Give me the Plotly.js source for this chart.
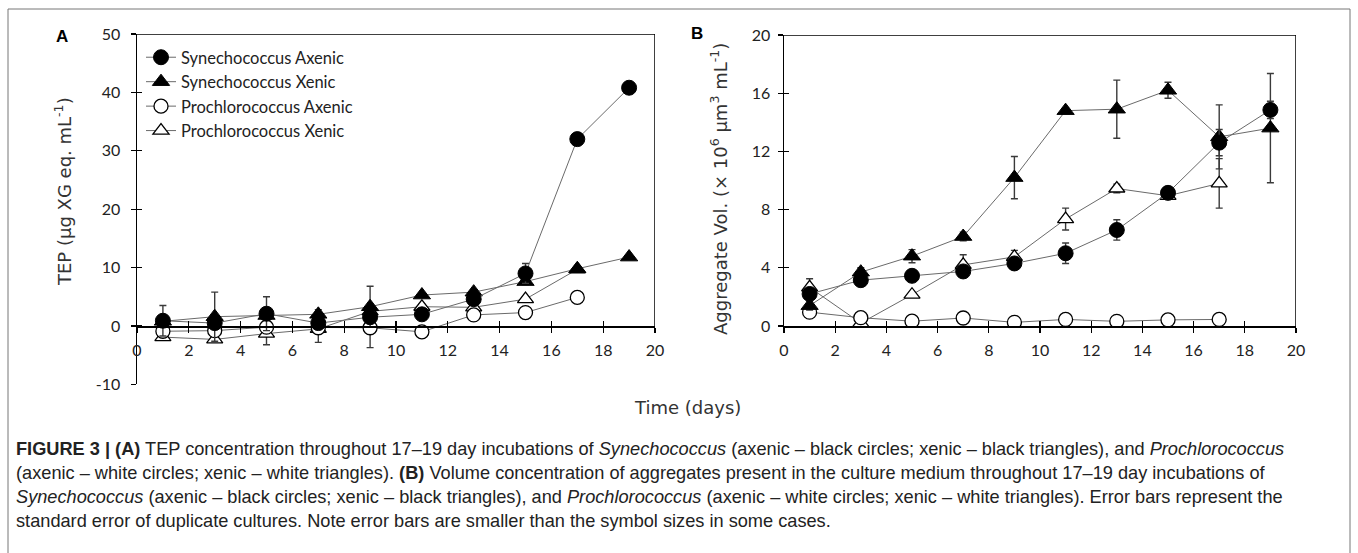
<!DOCTYPE html>
<html>
<head>
<meta charset="utf-8">
<script src="https://cdn.plot.ly/plotly-3.0.1.min.js"></script>
<style>html,body{margin:0;padding:0;background:#fff;}#chart{width:1358px;height:553px;}</style>
</head>
<body>
<div id="chart"></div>
<script>
// ---------- data ----------
const daysSyn = [1, 3, 5, 7, 9, 11, 13, 15, 17, 19];
const daysPro = [1, 3, 5, 7, 9, 11, 13, 15, 17];

// Panel A: TEP (µg XG eq. mL-1)
const tepSynAxenic    = [0.9, 0.5, 2.1, 0.5, 1.5, 2.0, 4.6, 9.0, 32.0, 40.8];
const tepSynAxenicErr = [2.6, 0.3, 2.9, 0.3, 0.4, 0.5, 0.5, 1.7, 0.4, 0.4];
const tepSynXenic     = [0.8, 1.6, 1.8, 2.0, 3.3, 5.3, 5.8, 7.6, 9.8, 11.8];
const tepSynXenicErr  = [0.3, 4.2, 0.3, 0.8, 3.5, 0.4, 0.4, 0.5, 0.3, 0.4];
const tepProAxenic    = [-0.9, -0.8, -0.2, -0.3, -0.3, -1.0, 1.9, 2.3, 4.9];
const tepProAxenicErr = [0.3, 0.3, 0.4, 2.5, 3.4, 0.6, 0.5, 0.4, 0.3];
const tepProXenic     = [-1.9, -2.3, -1.3, -0.5, 2.5, 3.3, 3.2, 4.6, 9.7];
const tepProXenicErr  = [0.3, 0.3, 1.9, 0.5, 0.4, 0.4, 0.4, 0.4, 0.3];

// Panel B: Aggregate volume (x 10^6 µm3 mL-1)
const volSynAxenic    = [2.2, 3.15, 3.45, 3.75, 4.3, 5.0, 6.6, 9.15, 12.6, 14.85];
const volSynAxenicErr = [0.3, 0.3, 0.3, 0.3, 0.3, 0.7, 0.7, 0.4, 0.9, 0.6];
const volSynXenic     = [1.4, 3.7, 4.8, 6.15, 10.2, 14.8, 14.9, 16.2, 13.0, 13.6];
const volSynXenicErr  = [0.3, 0.3, 0.45, 0.3, 1.45, 0.2, 2.0, 0.55, 2.2, 3.75];
const volProAxenic    = [0.95, 0.57, 0.33, 0.55, 0.25, 0.45, 0.32, 0.42, 0.45];
const volProAxenicErr = [0.2, 0.2, 0.2, 0.3, 0.15, 0.3, 0.1, 0.2, 0.2];
const volProXenic     = [2.65, 0.2, 2.15, 4.2, 4.75, 7.35, 9.45, 8.95, 9.8];
const volProXenicErr  = [0.6, 0.2, 0.1, 0.7, 0.45, 0.75, 0.3, 0.2, 1.7];

const seriesNames = ['Synechococcus Axenic', 'Synechococcus Xenic', 'Prochlorococcus Axenic', 'Prochlorococcus Xenic'];
const xTicks = [0, 2, 4, 6, 8, 10, 12, 14, 16, 18, 20];
const yTicksA = [-10, 0, 10, 20, 30, 40, 50];
const yTicksAText = ['-10', '0', '10', '20', '30', '40', '50'];
const yTicksB = [0, 4, 8, 12, 16, 20];

// ---------- styles ----------
const W = 1358, H = 553;
const px = v => v / W, py = v => 1 - v / H;
const lineColor = '#6a6a6a';
const errStyle = {type: 'data', visible: true, color: '#3a3a3a', thickness: 1.4, width: 3.5};
const markerStyles = [
  {symbol: 'circle', size: 15, color: '#000', line: {color: '#000', width: 1}},
  {symbol: 'triangle-up', size: 15, color: '#000', line: {color: '#000', width: 1}},
  {symbol: 'circle', size: 14, color: '#fff', line: {color: '#000', width: 1.3}},
  {symbol: 'triangle-up', size: 14, color: '#fff', line: {color: '#000', width: 1.3}}
];
function mk(i, x, y, e, xa, ya, legend) {
  return {
    type: 'scatter', mode: 'lines+markers', name: seriesNames[i],
    x: x, y: y, xaxis: xa, yaxis: ya,
    line: {color: lineColor, width: 1},
    marker: markerStyles[i],
    error_y: Object.assign({array: e}, errStyle),
    showlegend: legend, legendrank: i + 1, hoverinfo: 'x+y+name'
  };
}

const traces = [
  // panel A (draw Pro first so Syn sits on top)
  mk(3, daysPro, tepProXenic, tepProXenicErr, 'x', 'y', true),
  mk(2, daysPro, tepProAxenic, tepProAxenicErr, 'x', 'y', true),
  mk(1, daysSyn, tepSynXenic, tepSynXenicErr, 'x', 'y', true),
  mk(0, daysSyn, tepSynAxenic, tepSynAxenicErr, 'x', 'y', true),
  // panel B
  mk(3, daysPro, volProXenic, volProXenicErr, 'x2', 'y2', false),
  mk(2, daysPro, volProAxenic, volProAxenicErr, 'x2', 'y2', false),
  mk(1, daysSyn, volSynXenic, volSynXenicErr, 'x2', 'y2', false),
  mk(0, daysSyn, volSynAxenic, volSynAxenicErr, 'x2', 'y2', false),
  // empty traces for inner tick overlays
  {type: 'scatter', x: [], y: [], xaxis: 'x3', yaxis: 'y3', showlegend: false, hoverinfo: 'skip'},
  {type: 'scatter', x: [], y: [], xaxis: 'x4', yaxis: 'y4', showlegend: false, hoverinfo: 'skip'}
];

// domains
const domAx = [px(137), px(655)];
const domAy = [py(384.4), py(34)];
const domBx = [px(784), px(1296)];
const domBy = [py(326), py(35)];
const zeroPosA = domAy[0] + (domAy[1] - domAy[0]) * (10 / 60);

const tickFont = {family: 'Lato, "Open Sans", sans-serif', size: 16, color: '#222'};
const baseAxis = {
  showgrid: false, zeroline: false, showline: true, linecolor: '#000', linewidth: 1.5,
  ticks: 'outside', ticklen: 5, tickwidth: 1.3, tickcolor: '#000', tickfont: tickFont,
  fixedrange: true
};
const innerAxis = {
  showgrid: false, zeroline: false, showline: false, ticks: 'inside', ticklen: 5,
  tickwidth: 1.3, tickcolor: '#000', showticklabels: false, fixedrange: true
};

const capFont = {family: '"Liberation Sans Narrow", "Liberation Sans", Arial, sans-serif', size: 18.2, color: '#222'};
const capLines = [
  '<b>FIGURE 3 | (A)</b> TEP concentration throughout 17–19 day incubations of <i>Synechococcus</i> (axenic – black circles; xenic – black triangles), and <i>Prochlorococcus</i>',
  '(axenic – white circles; xenic – white triangles). <b>(B)</b> Volume concentration of aggregates present in the culture medium throughout 17–19 day incubations of',
  '<i>Synechococcus</i> (axenic – black circles; xenic – black triangles), and <i>Prochlorococcus</i> (axenic – white circles; xenic – white triangles). Error bars represent the',
  'standard error of duplicate cultures. Note error bars are smaller than the symbol sizes in some cases.'
];
const capY = [449, 473, 497, 521];

const titleFont = {family: '"DejaVu Sans", Verdana, sans-serif', size: 18, color: '#333'};
const annotations = [
  {text: '<b>A</b>', x: px(62), y: py(36), xref: 'paper', yref: 'paper', showarrow: false,
   xanchor: 'center', yanchor: 'middle',
   font: {family: '"Liberation Sans", Arial, sans-serif', size: 17, color: '#000'}},
  {text: '<b>B</b>', x: px(697), y: py(33), xref: 'paper', yref: 'paper', showarrow: false,
   xanchor: 'center', yanchor: 'middle',
   font: {family: '"Liberation Sans", Arial, sans-serif', size: 17, color: '#000'}},
  {text: 'TEP (µg XG eq. mL<sup>-1</sup>)', x: px(63), y: py(192), xref: 'paper', yref: 'paper',
   xanchor: 'center', yanchor: 'middle', showarrow: false, textangle: -90, font: titleFont},
  {text: 'Aggregate Vol. (× 10<sup>6</sup> µm<sup>3</sup> mL<sup>-1</sup>)', x: px(719), y: py(189), xref: 'paper', yref: 'paper',
   xanchor: 'center', yanchor: 'middle', showarrow: false, textangle: -90, font: titleFont},
  {text: 'Time (days)', x: px(687), y: py(407), xref: 'paper', yref: 'paper', showarrow: false,
   xanchor: 'center', yanchor: 'middle', font: titleFont}
].concat(capLines.map((t, i) => ({
  text: t, x: px(14), y: py(capY[i]), xref: 'paper', yref: 'paper', xanchor: 'left', yanchor: 'middle',
  showarrow: false, align: 'left', font: capFont
})));

const shapes = [
  {type: 'line', xref: 'x', yref: 'y', x0: 0, x1: 20, y0: 50, y1: 50, line: {color: '#000', width: 1.5}},
  {type: 'line', xref: 'x', yref: 'y', x0: 20, x1: 20, y0: 0, y1: 50, line: {color: '#000', width: 1.5}},
  {type: 'line', xref: 'x2', yref: 'y2', x0: 0, x1: 20, y0: 20, y1: 20, line: {color: '#000', width: 1.5}},
  {type: 'line', xref: 'x2', yref: 'y2', x0: 20, x1: 20, y0: 0, y1: 20, line: {color: '#000', width: 1.5}},
  {type: 'rect', xref: 'paper', yref: 'paper', x0: px(8), x1: px(1350), y0: -0.02, y1: py(9),
   line: {color: '#777', width: 1}, fillcolor: 'rgba(0,0,0,0)', layer: 'below'}
];

const layout = {
  width: W, height: H, margin: {l: 0, r: 0, t: 0, b: 0},
  paper_bgcolor: '#fff', plot_bgcolor: 'rgba(0,0,0,0)',
  showlegend: true,
  legend: {x: px(141), y: py(40), xanchor: 'left', yanchor: 'top', bgcolor: 'rgba(0,0,0,0)',
           font: {family: 'Lato, "Open Sans", sans-serif', size: 16.5, color: '#222'},
           traceorder: 'normal', itemwidth: 30, tracegroupgap: 0},
  xaxis: Object.assign({}, baseAxis, {domain: domAx, range: [0, 20], tickvals: xTicks, anchor: 'free', position: zeroPosA, ticklabelstandoff: 4}),
  yaxis: Object.assign({}, baseAxis, {domain: domAy, range: [-10, 50], tickvals: yTicksA, ticktext: yTicksAText, anchor: 'x', ticklabelstandoff: 7}),
  xaxis2: Object.assign({}, baseAxis, {domain: domBx, range: [0, 20], tickvals: xTicks, anchor: 'y2', ticklabelstandoff: 4}),
  yaxis2: Object.assign({}, baseAxis, {domain: domBy, range: [0, 20], tickvals: yTicksB, anchor: 'x2', ticklabelstandoff: 4}),
  xaxis3: Object.assign({}, innerAxis, {domain: domAx, range: [0, 20], tickvals: xTicks, anchor: 'free', position: zeroPosA, overlaying: 'x'}),
  yaxis3: Object.assign({}, innerAxis, {domain: domAy, range: [-10, 50], tickvals: yTicksA, anchor: 'x3', overlaying: 'y'}),
  xaxis4: Object.assign({}, innerAxis, {domain: domBx, range: [0, 20], tickvals: xTicks, anchor: 'y4', overlaying: 'x2'}),
  yaxis4: Object.assign({}, innerAxis, {domain: domBy, range: [0, 20], tickvals: yTicksB, anchor: 'x4', overlaying: 'y2'}),
  annotations: annotations,
  shapes: shapes
};

Plotly.newPlot('chart', traces, layout, {displayModeBar: false, staticPlot: true});
</script>
</body>
</html>
